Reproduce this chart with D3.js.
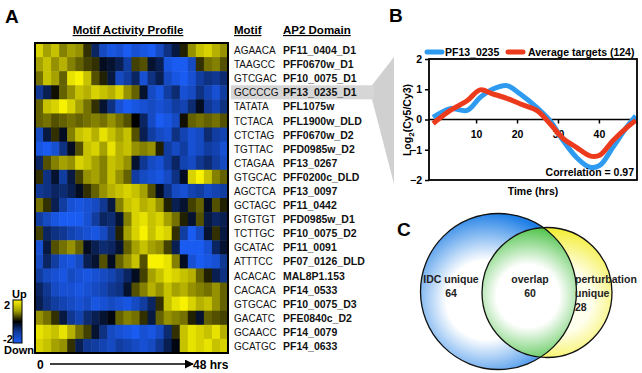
<!doctype html>
<html>
<head>
<meta charset="utf-8"/>
<script src="https://cdnjs.cloudflare.com/ajax/libs/d3/7.8.5/d3.min.js"></script>
<style>
  body { margin: 0; background: #fff; }
  text { font-family: "Liberation Sans", Arial, sans-serif; }
</style>
</head>
<body>
<svg id="fig" width="642" height="373"></svg>
<script>
// ---- panel A data ----
var motifs = ["AGAACA","TAAGCC","GTCGAC","GCCCCG","TATATA","TCTACA","CTCTAG","TGTTAC","CTAGAA","GTGCAC","AGCTCA",
  "GCTAGC","GTGTGT","TCTTGC","GCATAC","ATTTCC","ACACAC","CACACA","GTGCAC","GACATC","GCAACC","GCATGC"];
var domains = ["PF11_0404_D1","PFF0670w_D1","PF10_0075_D1","PF13_0235_D1","PFL1075w","PFL1900w_DLD","PFF0670w_D2",
  "PFD0985w_D2","PF13_0267","PFF0200c_DLD","PF13_0097","PF11_0442","PFD0985w_D1","PF10_0075_D2","PF11_0091",
  "PF07_0126_DLD","MAL8P1.153","PF14_0533","PF10_0075_D3","PFE0840c_D2","PF14_0079","PF14_0633"];
var highlightRow = 3;
// activity, 24 time bins (0 -> 48 hrs), one row per motif
var activity = [
  [1.3,1.0,1.2,0.8,1.0,0.9,0.3,-0.6,-1.2,-1.4,-1.3,-1.5,-1.3,-1.4,-1.6,-1.2,-0.8,-0.4,0.2,0.9,1.2,1.3,1.1,0.9],
  [1.0,1.2,0.9,1.1,0.8,0.6,0.4,0.3,-0.2,-0.3,-0.5,-1.0,0.4,0.5,-0.3,-0.5,-1.4,-1.6,-1.5,-1.2,0.3,0.7,0.8,0.5],
  [0.7,1.2,1.0,0.6,1.4,1.5,1.2,0.5,0.2,-0.4,-1.2,-1.0,-0.6,-1.3,-0.8,-0.5,-1.2,-1.4,-1.5,-1.3,-1.0,-0.8,-0.9,-0.7],
  [-0.9,-0.5,0.1,0.6,0.9,1.2,1.1,1.3,1.2,1.1,1.3,0.9,0.6,-0.3,-1.2,-1.4,-1.0,-0.7,-1.3,-1.2,-0.8,-1.1,-1.3,-1.0],
  [0.6,1.2,1.3,1.5,1.3,1.0,0.7,0.3,-0.3,-0.8,-1.3,-1.5,-1.4,-1.3,-1.2,-1.3,-1.2,-1.0,-1.1,-0.7,-0.2,-0.9,-1.1,-0.8],
  [0.6,0.7,0.5,0.6,0.7,0.6,0.7,0.8,0.7,0.9,0.7,0.5,0.0,-0.6,-1.2,-1.5,-1.4,-1.2,0.1,0.6,0.7,0.6,0.7,0.5],
  [-1.2,-0.4,0.3,-0.2,0.8,1.2,1.3,1.1,1.4,1.2,1.0,1.2,0.5,-0.5,-1.0,-1.2,-1.3,-0.8,-1.1,-1.3,-1.2,-0.7,-1.0,-1.1],
  [-1.4,-1.5,-1.3,-0.8,-0.2,0.5,1.2,1.3,1.0,1.4,1.1,1.2,0.9,0.8,0.9,0.2,-1.0,-1.2,-1.0,-1.3,-1.2,-1.0,-1.1,-1.3],
  [-0.6,0.5,0.8,1.0,0.9,1.3,1.2,1.0,0.8,1.2,1.1,0.9,-0.3,-0.9,-1.2,-1.3,-1.0,-0.6,-1.1,-1.2,-0.9,-0.7,-1.0,-1.2],
  [0.3,-0.8,-0.3,-1.0,-0.4,0.4,0.9,1.0,0.8,1.2,0.9,0.6,-1.0,-1.2,-1.3,-1.4,-1.2,-0.8,-0.2,1.3,1.6,1.2,0.8,0.6],
  [-0.9,-0.8,-0.6,-0.7,-0.5,-0.2,0.3,0.6,0.9,1.1,1.2,1.3,1.2,1.0,0.5,-0.2,-0.8,-1.2,-1.3,-1.1,-1.0,-1.2,-1.1,-1.0],
  [0.7,0.3,-0.5,-1.0,-1.3,-1.4,-1.3,-1.2,-0.9,-0.4,0.8,1.2,1.3,1.1,1.2,0.9,0.2,-0.5,-0.3,0.4,0.6,-0.2,0.5,0.2],
  [-1.0,-1.2,-1.4,-1.5,-1.6,-1.5,-1.3,-1.0,-0.6,-0.7,-0.3,0.8,1.3,1.4,1.2,1.3,1.0,0.7,0.2,-0.3,0.5,-0.4,-0.6,-0.5],
  [0.4,-0.6,-0.8,-0.9,-1.1,-1.2,-1.3,-1.4,-1.2,-0.8,0.2,1.0,1.3,1.5,1.2,1.4,1.3,0.3,-1.0,-1.5,-1.2,-0.3,0.3,-0.4],
  [-1.3,-0.4,0.5,0.7,0.9,0.6,-0.2,-0.5,-0.7,-0.6,-0.3,0.6,1.0,1.2,1.0,0.9,0.4,-0.5,-1.6,-1.7,-1.6,-1.3,-0.6,-0.3],
  [-1.2,-0.6,-1.0,-1.3,-1.4,-1.2,-0.5,-0.3,0.5,-0.2,0.6,0.9,1.2,0.5,1.5,1.6,1.4,0.8,-0.2,-1.3,-1.5,-1.4,-1.3,-0.9],
  [-1.0,-1.2,-1.3,-1.4,-1.2,-1.3,-1.4,-1.3,-1.2,-1.1,-0.9,-0.6,-0.2,0.4,1.0,1.2,1.4,1.3,1.2,1.1,0.6,0.2,-0.5,-0.8],
  [-0.6,-0.9,-1.2,-1.3,-1.3,-1.4,-1.3,-1.2,-1.1,-0.9,-0.8,-0.3,0.5,0.8,1.1,0.9,1.2,1.0,1.1,0.9,0.8,0.7,0.9,0.6],
  [-0.5,-0.8,-1.0,-1.1,-1.2,-1.3,-1.2,-1.4,-1.3,-1.2,-1.3,-1.4,-1.2,-1.0,-0.6,0.3,1.2,1.4,1.5,1.3,1.1,1.2,0.9,0.6],
  [0.9,0.7,0.3,-0.4,-0.9,-1.1,-0.7,-0.5,-0.3,-0.1,0.6,0.8,0.7,0.3,-0.4,0.6,0.9,0.8,0.7,0.2,-0.3,0.6,0.5,0.4],
  [1.4,1.3,1.2,1.4,1.1,0.7,0.4,-0.3,-0.8,-1.2,-1.3,-1.4,-1.5,-1.3,-1.4,-1.2,-0.7,0.3,1.2,1.4,1.3,1.2,1.4,1.1],
  [1.3,1.2,1.0,0.9,0.3,-0.5,-0.9,-1.0,-1.1,-1.2,-1.0,-1.1,-1.2,-1.3,-1.2,-0.9,-0.5,-0.1,1.2,1.4,1.3,1.4,1.2,1.3]
];

// ---- panel B data ----
var timeHrs  = [-0.5, 3.7, 7.8, 11, 14, 17.5, 20.7, 24.8, 28, 31.3, 34.5, 37.8, 40.2, 43.4, 46.8, 49];
var pf130235 = [0.07, 0.36, 0.3, 0.73, 1.0, 1.12, 0.85, 0.4, -0.03, -0.7, -1.25, -1.58, -1.52, -0.92, -0.25, 0.12];
var avgTargets = [-0.13, 0.3, 0.62, 0.98, 0.85, 0.7, 0.52, 0.3, -0.13, -0.63, -0.92, -1.2, -1.18, -0.7, -0.27, -0.03];
var yTicksB = [-2, -1, 0, 1, 2];
var xTicksB = [10, 20, 30, 40];

// ---- panel C data ----
var vennLabels = [["IDC unique", "64"], ["overlap", "60"], ["perturbation", "unique", "28"]];

var svg = d3.select("#fig");
var defs = svg.append("defs");

// ================= Panel A =================
svg.append("text").attr("x", 5).attr("y", 23).style("font-size", "19px").style("font-weight", "bold").text("A");

var hx = d3.scaleBand().domain(d3.range(24)).range([35, 228]);
var hy = d3.scaleBand().domain(d3.range(motifs.length)).range([43, 353]);
var heat = d3.scaleLinear().domain([-1.5, 0, 1.5]).range(["#1a5cf2", "#000000", "#f8f200"]).clamp(true);

svg.append("text").attr("x", 128).attr("y", 34).attr("text-anchor", "middle")
  .style("font-size", "11.5px").style("font-weight", "bold").style("text-decoration", "underline")
  .text("Motif Activity Profile");

var rows = svg.append("g").selectAll("g").data(activity).enter().append("g");
rows.each(function (row, i) {
  d3.select(this).selectAll("rect").data(row).enter().append("rect")
    .attr("x", (v, j) => hx(j))
    .attr("y", hy(i))
    .attr("width", hx.bandwidth() + 0.5)
    .attr("height", hy.bandwidth() + 0.5)
    .attr("fill", v => heat(v));
});
svg.append("rect").attr("x", 35).attr("y", 43).attr("width", 193).attr("height", 310)
  .attr("fill", "none").attr("stroke", "#000").attr("stroke-width", 2);

// highlight wedge toward panel B
var hy0 = hy(highlightRow), hy1 = hy(highlightRow) + hy.bandwidth();
svg.append("polygon")
  .attr("points", [[372, hy0], [394, 57], [394, 184], [372, hy1]].map(p => p.join(",")).join(" "))
  .attr("fill", "#d0d0d0");
svg.append("rect").attr("x", 231).attr("y", hy0).attr("width", 143).attr("height", hy.bandwidth())
  .attr("fill", "#d6d6d6");

svg.append("text").attr("x", 234).attr("y", 34).style("font-size", "11.5px").style("font-weight", "bold")
  .style("text-decoration", "underline").text("Motif");
svg.append("text").attr("x", 283).attr("y", 34).style("font-size", "11.5px").style("font-weight", "bold")
  .style("text-decoration", "underline").text("AP2 Domain");

svg.append("g").selectAll("text").data(motifs).enter().append("text")
  .attr("x", 234).attr("y", (d, i) => hy(i) + hy.bandwidth() / 2 + 4)
  .style("font-size", "10px").attr("fill", "#111").text(d => d);
svg.append("g").selectAll("text").data(domains).enter().append("text")
  .attr("x", 283).attr("y", (d, i) => hy(i) + hy.bandwidth() / 2 + 4)
  .style("font-size", "10.5px").style("font-weight", "bold").attr("fill", "#111").text(d => d);

// colour key
var keyGrad = defs.append("linearGradient").attr("id", "keyGrad").attr("x1", 0).attr("y1", 0).attr("x2", 0).attr("y2", 1);
[2, 1, 0, -1, -2].forEach(function (v, i) {
  keyGrad.append("stop").attr("offset", i / 4).attr("stop-color", heat(v));
});
svg.append("rect").attr("x", 13).attr("y", 300).attr("width", 9).attr("height", 43)
  .attr("fill", "url(#keyGrad)").attr("stroke", "#000").attr("stroke-width", 1);
svg.append("text").attr("x", 12).attr("y", 298).style("font-size", "11px").style("font-weight", "bold").text("Up");
svg.append("text").attr("x", 4).attr("y", 309).style("font-size", "11px").style("font-weight", "bold").text("2");
svg.append("text").attr("x", 3).attr("y", 343).style("font-size", "11px").style("font-weight", "bold").text("-2");
svg.append("text").attr("x", 4).attr("y", 354).style("font-size", "11px").style("font-weight", "bold").text("Down");

// time arrow
svg.append("text").attr("x", 37).attr("y", 369).style("font-size", "12px").style("font-weight", "bold").text("0");
defs.append("marker").attr("id", "arrow").attr("viewBox", "0 0 10 10").attr("refX", 9).attr("refY", 5)
  .attr("markerWidth", 6).attr("markerHeight", 6).attr("orient", "auto")
  .append("path").attr("d", "M0,0 L10,5 L0,10 z").attr("fill", "#000");
svg.append("line").attr("x1", 50).attr("x2", 193).attr("y1", 364).attr("y2", 364)
  .attr("stroke", "#000").attr("stroke-width", 1.5).attr("marker-end", "url(#arrow)");
svg.append("text").attr("x", 193).attr("y", 369).style("font-size", "12px").style("font-weight", "bold").text("48 hrs");

// ================= Panel B =================
svg.append("text").attr("x", 389).attr("y", 22).style("font-size", "19px").style("font-weight", "bold").text("B");

var bx = d3.scaleLinear().domain([-1.5, 49.3]).range([429, 637]);
var by = d3.scaleLinear().domain([-2, 2]).range([180, 59]);

defs.append("clipPath").attr("id", "plotClip").append("rect")
  .attr("x", 429).attr("y", 59).attr("width", 208).attr("height", 121);

var yAx = svg.append("g").attr("transform", "translate(429,0)")
  .call(d3.axisLeft(by).tickValues(yTicksB).tickSize(4).tickFormat(d3.format("d")));
yAx.select(".domain").remove();
yAx.selectAll("line").attr("stroke-width", 1.5);
yAx.selectAll("text").style("font-size", "10.5px").style("font-weight", "bold").style("font-family", "Liberation Sans, Arial");

var xAx = svg.append("g").attr("transform", "translate(0," + by(0) + ")")
  .call(d3.axisBottom(bx).tickValues(xTicksB).tickSize(4));
xAx.select(".domain").remove();
xAx.selectAll("line").attr("stroke-width", 1.5);
xAx.selectAll("text").attr("dy", "1.1em").style("font-size", "10.5px").style("font-weight", "bold")
  .style("font-family", "Liberation Sans, Arial");

svg.append("line").attr("x1", 429).attr("x2", 637).attr("y1", by(0)).attr("y2", by(0))
  .attr("stroke", "#000").attr("stroke-width", 1.5);

var lineGen = d3.line().x((d, i) => bx(timeHrs[i])).y(d => by(d)).curve(d3.curveCatmullRom.alpha(0.5));
var plot = svg.append("g").attr("clip-path", "url(#plotClip)");
plot.append("path").attr("d", lineGen(pf130235)).attr("fill", "none")
  .attr("stroke", "#2f9bf0").attr("stroke-width", 5).attr("stroke-linejoin", "round");
plot.append("path").attr("d", lineGen(avgTargets)).attr("fill", "none")
  .attr("stroke", "#ec3a1d").attr("stroke-width", 5).attr("stroke-linejoin", "round");

svg.append("rect").attr("x", 429).attr("y", 59).attr("width", 208).attr("height", 121)
  .attr("fill", "none").attr("stroke", "#000").attr("stroke-width", 1.8);

svg.append("text").attr("x", 634).attr("y", 176).attr("text-anchor", "end")
  .style("font-size", "10.5px").style("font-weight", "bold").text("Correlation = 0.97");

svg.append("text").attr("transform", "translate(411,120) rotate(-90)").attr("text-anchor", "middle")
  .style("font-size", "10.5px").style("font-weight", "bold")
  .html('Log<tspan font-size="8px" dy="3">2</tspan><tspan dy="-3">(Cy5/Cy3)</tspan>');
svg.append("text").attr("x", 533).attr("y", 195).attr("text-anchor", "middle")
  .style("font-size", "10.5px").style("font-weight", "bold").text("Time (hrs)");

// legend
svg.append("line").attr("x1", 427).attr("x2", 442).attr("y1", 52).attr("y2", 52)
  .attr("stroke", "#2f9bf0").attr("stroke-width", 5).attr("stroke-linecap", "round");
svg.append("text").attr("x", 445).attr("y", 56).style("font-size", "10.5px").style("font-weight", "bold").text("PF13_0235");
svg.append("line").attr("x1", 508).attr("x2", 523).attr("y1", 52).attr("y2", 52)
  .attr("stroke", "#ec3a1d").attr("stroke-width", 5).attr("stroke-linecap", "round");
svg.append("text").attr("x", 528).attr("y", 56).style("font-size", "10.5px").style("font-weight", "bold").text("Average targets (124)");

// ================= Panel C =================
svg.append("text").attr("x", 397).attr("y", 236).style("font-size", "19px").style("font-weight", "bold").text("C");

function radial(id, cx, cy, r, inner, outer) {
  var g = defs.append("radialGradient").attr("id", id).attr("gradientUnits", "userSpaceOnUse")
    .attr("cx", cx).attr("cy", cy).attr("r", r);
  g.append("stop").attr("offset", 0).attr("stop-color", inner);
  g.append("stop").attr("offset", 0.45).attr("stop-color", inner);
  g.append("stop").attr("offset", 1).attr("stop-color", outer);
}
var blueC = { cx: 498.5, cy: 291.5, r: 78 };
var yelC = { cx: 547, cy: 292.5, r: 65 };
radial("gBlue", 486, 300, 88, "#ffffff", "#1f7fe6");
radial("gYel", 560, 300, 70, "#ffffee", "#f3ee3a");
radial("gGreen", 528, 296, 70, "#ffffff", "#4cc247");

svg.append("circle").attr("cx", blueC.cx).attr("cy", blueC.cy).attr("r", blueC.r).attr("fill", "url(#gBlue)");
svg.append("circle").attr("cx", yelC.cx).attr("cy", yelC.cy).attr("r", yelC.r).attr("fill", "url(#gYel)");
defs.append("clipPath").attr("id", "yelClip").append("circle")
  .attr("cx", yelC.cx).attr("cy", yelC.cy).attr("r", yelC.r);
svg.append("circle").attr("cx", blueC.cx).attr("cy", blueC.cy).attr("r", blueC.r)
  .attr("fill", "url(#gGreen)").attr("clip-path", "url(#yelClip)");
svg.append("circle").attr("cx", blueC.cx).attr("cy", blueC.cy).attr("r", blueC.r)
  .attr("fill", "none").attr("stroke", "#111").attr("stroke-width", 1.3);
svg.append("circle").attr("cx", yelC.cx).attr("cy", yelC.cy).attr("r", yelC.r)
  .attr("fill", "none").attr("stroke", "#111").attr("stroke-width", 1.3);

var vennPos = [[451, 283, "middle"], [530, 283, "middle"], [575, 283, "start"]];
vennLabels.forEach(function (lines, k) {
  var t = svg.append("text").attr("x", vennPos[k][0]).attr("y", vennPos[k][1]).attr("text-anchor", vennPos[k][2])
    .style("font-size", "10.5px").style("font-weight", "bold").attr("fill", "#222");
  lines.forEach(function (s, j) {
    t.append("tspan").attr("x", vennPos[k][0]).attr("dy", j === 0 ? 0 : 14).text(s);
  });
});
</script>
</body>
</html>
